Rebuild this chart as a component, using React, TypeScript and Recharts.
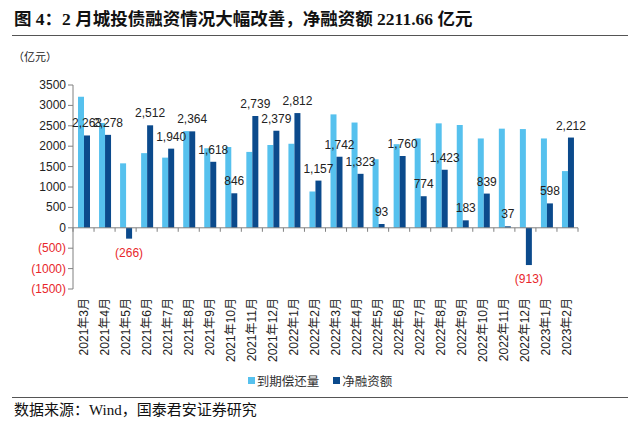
import { BarChart, Bar, XAxis, YAxis, ReferenceLine, LabelList } from 'recharts';

const months = [
  '2021年3月', '2021年4月', '2021年5月', '2021年6月', '2021年7月', '2021年8月',
  '2021年9月', '2021年10月', '2021年11月', '2021年12月', '2022年1月', '2022年2月',
  '2022年3月', '2022年4月', '2022年5月', '2022年6月', '2022年7月', '2022年8月',
  '2022年9月', '2022年10月', '2022年11月', '2022年12月', '2023年1月', '2023年2月',
];
// 到期偿还量
const repayment = [
  3210, 2570, 1580, 1830, 1720, 2370, 1950, 1980, 1860, 2030, 2060, 890,
  2780, 2580, 1680, 2050, 2190, 2560, 2520, 2190, 2430, 2420, 2190, 1390,
];
// 净融资额 (labelled)
const netFinancing = [
  2263, 2278, -266, 2512, 1940, 2364, 1618, 846, 2739, 2379, 2812, 1157,
  1742, 1323, 93, 1760, 774, 1423, 183, 839, 37, -913, 598, 2212,
];
const yTicks = [3500, 3000, 2500, 2000, 1500, 1000, 500, 0, -500, -1000, -1500];

const rows = months.map((m, i) => ({ month: m, repay: repayment[i], net: netFinancing[i] }));

const LIGHT = '#56C1EE';
const DARK = '#0B4A8C';
const RED = '#E8262B';
const AXIS = '#808080';
const TEXT = '#222';
const SANS = '"Liberation Sans", Arial, "Noto Sans CJK SC", sans-serif';
const SERIF = '"Liberation Serif", "Times New Roman", "Noto Sans CJK SC", serif';

const fmtLabel = (v: number) =>
  v < 0 ? `(${Math.abs(v).toLocaleString('en-US')})` : v.toLocaleString('en-US');

function YTick({ x, y, payload }: any) {
  const v = payload.value as number;
  return (
    <text x={x} y={y} dy={4} textAnchor="end" fontSize={12} fontFamily={SANS} fill={v < 0 ? RED : TEXT}>
      {v < 0 ? `(${-v})` : `${v}`}
    </text>
  );
}

function MonthTick({ x, y, payload }: any) {
  return (
    <text transform={`translate(${x + 4},${y + 1}) rotate(-90)`} textAnchor="end" fontSize={12} fontFamily={SANS} fill={TEXT}>
      {payload.value}
    </text>
  );
}

// zero line with category boundary ticks
function ZeroAxis(props: any) {
  const { x1, x2, y1 } = props;
  const n = months.length;
  const step = (x2 - x1) / n;
  return (
    <g>
      <line x1={x1} x2={x2} y1={y1} y2={y1} stroke={AXIS} strokeWidth={1} />
      {Array.from({ length: n + 1 }, (_, i) => (
        <line key={i} x1={x1 + i * step} x2={x1 + i * step} y1={y1} y2={y1 + 4} stroke={AXIS} />
      ))}
    </g>
  );
}

function NetLabel(props: any) {
  const { x, y, width, height, value } = props;
  const top = Math.min(y, y + height);
  const bottom = Math.max(y, y + height);
  const cx = x + width / 2;
  if (value < 0) {
    return (
      <text x={cx} y={bottom + 18} textAnchor="middle" fontSize={12} fontFamily={SANS} fill={RED}>
        {fmtLabel(value)}
      </text>
    );
  }
  return (
    <text x={cx} y={top - 8} textAnchor="middle" fontSize={12} fontFamily={SANS} fill={TEXT}>
      {fmtLabel(value)}
    </text>
  );
}

export default function App() {
  return (
    <div style={{ position: 'absolute', left: 0, top: 0, width: 640, height: 434, background: '#fff', overflow: 'hidden' }}>
      <div style={{ position: 'absolute', left: 14, top: 10, fontFamily: SERIF, fontWeight: 700, fontSize: 17.5, lineHeight: '19px', color: '#111', whiteSpace: 'nowrap' }}>
        图 4：2 月城投债融资情况大幅改善，净融资额 2211.66 亿元
      </div>
      <div style={{ position: 'absolute', left: 12, top: 35, width: 616, height: 0, borderTop: '1.5px solid #555' }} />
      <div style={{ position: 'absolute', left: 13, top: 50, fontFamily: SERIF, fontSize: 11, lineHeight: '14px', color: TEXT }}>
        （亿元）
      </div>

      <div style={{ position: 'absolute', left: 0, top: 0 }}>
        <BarChart width={640} height={434} data={rows} margin={{ top: 85, right: 62, left: 0, bottom: 65 }} barGap={0}>
          <XAxis dataKey="month" interval={0} axisLine={false} tickLine={false} height={80} tick={<MonthTick />} />
          <YAxis
            type="number"
            domain={[-1500, 3500]}
            ticks={yTicks}
            interval={0}
            width={73}
            tickSize={5}
            axisLine={{ stroke: AXIS }}
            tickLine={{ stroke: AXIS }}
            tick={<YTick />}
          />
          <ReferenceLine y={0} shape={<ZeroAxis />} />
          <Bar dataKey="repay" name="到期偿还量" fill={LIGHT} barSize={6} isAnimationActive={false} />
          <Bar dataKey="net" name="净融资额" fill={DARK} barSize={6} isAnimationActive={false}>
            <LabelList dataKey="net" content={<NetLabel />} />
          </Bar>
        </BarChart>
      </div>

      <div style={{ position: 'absolute', left: 0, top: 371, width: 640, display: 'flex', justifyContent: 'center', alignItems: 'center', fontFamily: SERIF, fontSize: 12.5, color: '#333', gap: 14 }}>
        <span style={{ display: 'flex', alignItems: 'center' }}>
          <span style={{ width: 7, height: 7, background: LIGHT, marginRight: 2, display: 'inline-block' }} />
          到期偿还量
        </span>
        <span style={{ display: 'flex', alignItems: 'center' }}>
          <span style={{ width: 7, height: 7, background: DARK, marginRight: 2, display: 'inline-block' }} />
          净融资额
        </span>
      </div>

      <div style={{ position: 'absolute', left: 12, top: 397, width: 616, height: 0, borderTop: '1.5px solid #555' }} />
      <div style={{ position: 'absolute', left: 14, top: 402, fontFamily: SERIF, fontSize: 15, lineHeight: '16px', color: '#111', whiteSpace: 'nowrap' }}>
        数据来源：Wind，国泰君安证券研究
      </div>
    </div>
  );
}
